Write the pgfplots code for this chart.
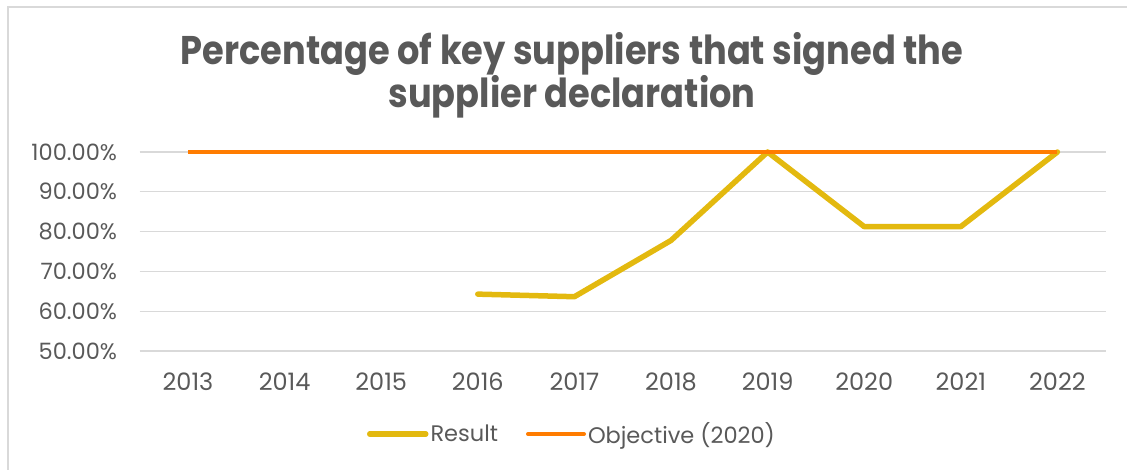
\documentclass[border=0pt]{standalone}
\usepackage{fontspec}
\setmainfont{Poppins}
\usepackage{pgfplots}
\pgfplotsset{compat=1.18}
\definecolor{txt}{HTML}{595959}
\definecolor{gridc}{HTML}{D9D9D9}
\definecolor{res}{HTML}{E3B90F}
\definecolor{obj}{HTML}{FF7C00}
\begin{document}
\begin{tikzpicture}[x=1pt,y=1pt]
\useasboundingbox (0pt,0pt) rectangle (1127pt,469pt);
\draw[gridc, line width=1.3pt] (8pt,-20pt) -- (8pt,462pt) -- (1150pt,462pt);
\node[anchor=base, text=txt, inner sep=0pt, font=\fontsize{40}{48}\selectfont\bfseries] at (572pt,404pt) {\scalebox{0.88}[1]{Percentage of key suppliers that signed the}};
\node[anchor=base, text=txt, inner sep=0pt, font=\fontsize{40}{48}\selectfont\bfseries] at (572pt,361pt) {\scalebox{0.88}[1]{supplier declaration}};
\begin{axis}[
  at={(139.7pt,118pt)}, anchor=south west, scale only axis,
  width=966pt, height=199pt,
  xmin=-0.5, xmax=9.5, ymin=50, ymax=100,
  clip=false,
  axis line style={draw=none},
  major tick length=0pt,
  ymajorgrids, grid style={gridc, line width=1.3pt},
  xtick={0,...,9},
  xticklabels={2013,2014,2015,2016,2017,2018,2019,2020,2021,2022},
  ytick={50,60,70,80,90,100},
  yticklabels={50.00\%,60.00\%,70.00\%,80.00\%,90.00\%,100.00\%},
  /pgf/number format/assume math mode=true,
  xticklabel style={font=\fontsize{24}{28}\selectfont, text=txt, anchor=north, inner sep=0pt, yshift=-22pt},
  yticklabel style={font=\fontsize{22.5}{26}\selectfont, text=txt, anchor=east, inner sep=0pt, xshift=-22.5pt},
  legend style={draw=none, fill=none, at={(0.4475,-0.417)}, anchor=center, legend columns=2,
    font=\fontsize{22.5}{26}\selectfont, text=txt,
    /tikz/every even column/.append style={column sep=26pt}},
  legend cell align=left,
  legend image code/.code={\draw[#1, line cap=round] (0pt,0pt) -- (56pt,0pt);},
]
\addplot[res, line width=5.5pt, line join=round, line cap=round] coordinates {(3,64.29) (4,63.64) (5,77.78) (6,100) (7,81.25) (8,81.25) (9,100)};
\addlegendentry{Result}
\addplot[obj, line width=4pt, line join=round] coordinates {(0,100) (1,100) (2,100) (3,100) (4,100) (5,100) (6,100) (7,100) (8,100) (9,100)};
\addlegendentry{Objective (2020)}
\end{axis}
\end{tikzpicture}
\end{document}
